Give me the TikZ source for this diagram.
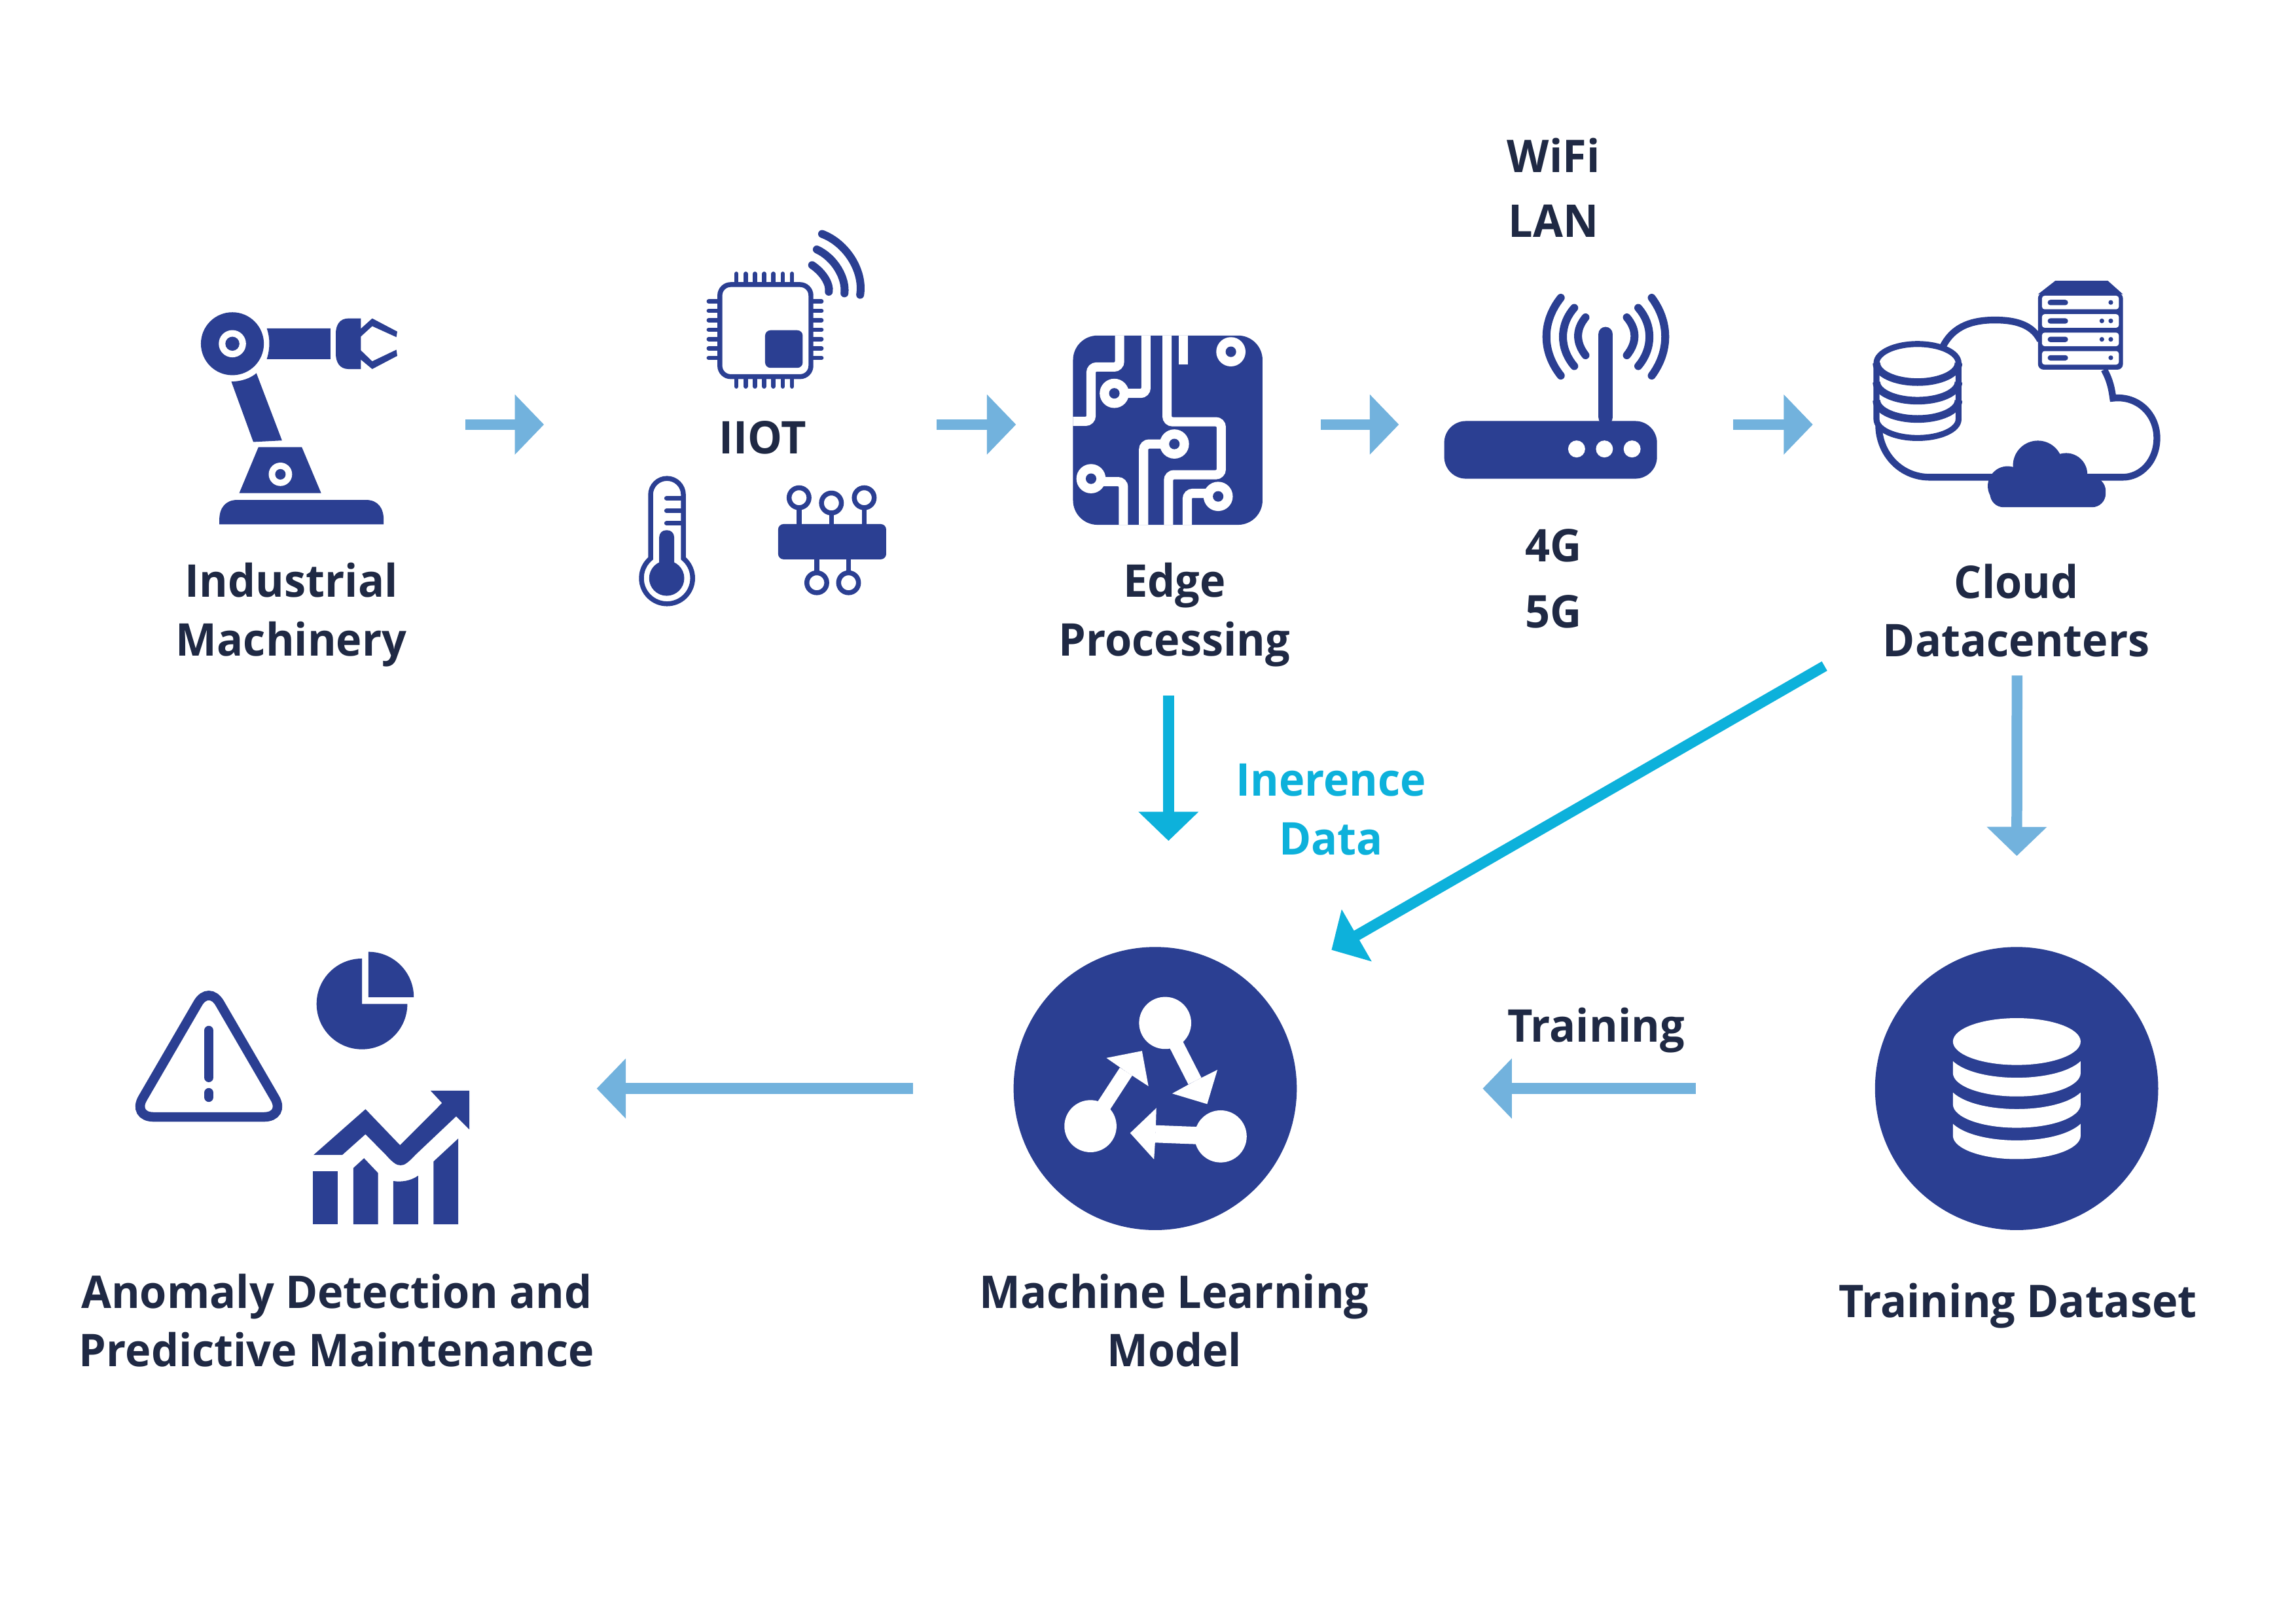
\documentclass[tikz,border=0pt]{standalone}
\usepackage{fontspec}
\usepackage{xcolor}
\usetikzlibrary{arrows.meta, positioning}
\setmainfont{Open Sans}[FakeStretch=0.966]
\definecolor{navy}{RGB}{43,63,146}
\definecolor{ink}{RGB}{31,41,68}
\definecolor{flow}{RGB}{114,178,221}
\definecolor{infer}{RGB}{13,177,219}

\begin{document}
\begin{tikzpicture}[
    x=0.018941cm, y=-0.018941cm,
    label/.style={align=center, font=\fontsize{16.6}{21.5}\selectfont\bfseries, text=ink, inner sep=0pt},
    inferlabel/.style={label, text=infer},
    frame/.style={rectangle, inner sep=0pt, outer sep=0pt, minimum height=10pt},
    disk/.style={circle, fill=navy, inner sep=0pt, outer sep=0pt, minimum size=104.2pt},
    ar/.style={-{Triangle[length=10.7pt, width=21.5pt]}, draw=flow, line width=3.97pt},
    arinfer/.style={ar, draw=infer},
    solid/.style={fill=navy, draw=none},
    line/.style={draw=navy, line width=1.8pt},
    wave/.style={draw=navy, line width=2.9pt, line cap=round},
    cut/.style={draw=white, line width=3.4pt, rounded corners=2pt}
]
\useasboundingbox (0,0) rectangle (1568,1109);

% frames of the upper row, the arrows run between their edges
\node[frame, minimum width=101pt] (robot) at (224,290) {};
\node[frame, minimum width=144.4pt] (iiot) at (505.5,290) {};
\node[frame, minimum width=112.2pt, minimum height=199.7pt] (edge) at (798,290) {};
\node[frame, minimum width=123pt] (router) at (1069.5,290) {};
\node[frame, minimum width=150.3pt, minimum height=184.7pt] (cloud) at (1377.5,290) {};

% lower row
\node[disk] (model) at (788.9,743.6) {};
\node[disk] (trainset) at (1377.2,743.6) {};
\node[frame, minimum width=169.7pt] (anomaly) at (250,743.6) {};

% robot arm
\fill[navy] (158.7,234.8) circle[radius=21.5];
\fill[white] (158.7,234.8) circle[radius=9.3];
\fill[navy] (158.7,234.8) circle[radius=4.8];
\path[solid] (182.2,224.3) -- (225.7,224.3) -- (225.7,245.3) -- (182.2,245.3)
    .. controls (184.5,238) and (184.5,231) .. cycle;
\path[solid] (246.4,217.5) -- (238,217.5) .. controls (232,217.5) and (229.3,222) .. (229.3,228)
    -- (229.3,241.5) .. controls (229.3,247.5) and (232,252.1) .. (238,252.1) -- (246.4,252.1) -- cycle;
\path[solid, line join=round] (246,224.9) -- (254.2,217.5) -- (271.3,226.5) -- (270.7,230.3)
    -- (254.2,222.8) -- (246,230.3) -- cycle;
\path[solid, line join=round] (246,238.9) -- (254.2,246.8) -- (270.7,238.9) -- (271.3,243.1)
    -- (254.2,252.1) -- (246,245.3) -- cycle;
\path[solid] (158,260.7) .. controls (165,260.5) and (171,258.5) .. (175.1,254.9)
    -- (192.6,300.9) -- (173,301.9) -- cycle;
\path[solid] (176.5,305.4) -- (206.1,305.4) -- (219.3,336.8) -- (163.4,336.8) -- cycle;
\fill[white] (191.5,324) circle[radius=8];
\fill[navy] (191.5,324) circle[radius=3.6];
\path[solid] (149.8,358.2) -- (149.8,355) .. controls (149.8,347) and (154,341.5) .. (162,341.5)
    -- (250,341.5) .. controls (258,341.5) and (262,347) .. (262,355) -- (262,358.2) -- cycle;
\node[label] (machinery) at (199,420) {Industrial\\Machinery};

% chip with pins
\foreach \i in {0,...,6} {
    \draw[navy, line width=1.6pt, line cap=round] (502.9+6.33*\i,187) -- (502.9+6.33*\i,264);
    \draw[navy, line width=1.6pt, line cap=round] (484,205.9+6.43*\i) -- (561,205.9+6.43*\i);
}
\draw[line, fill=white, rounded corners=4pt] (491.6,194.4) rectangle (553.8,257.3);
\path[solid, rounded corners=2pt] (522.5,225.6) rectangle (548.2,251.3);
\draw[wave] (561.4,159.8) .. controls (578,166) and (590,185) .. (587.4,201.4);
\draw[wave] (557.8,170.4) .. controls (570,176) and (578,190) .. (576.7,200.4);
\draw[wave] (554.6,181.1) .. controls (562,186) and (567,194) .. (566,199.3);
\node[label] (iiotlabel) at (521,299) {IIOT};

% thermometer
\draw[line] (444.3,338) arc[start angle=180, end angle=360, radius=11.2] -- (466.7,381.5)
    arc[start angle=-50.3, end angle=230.3, radius=17.5] -- cycle;
\fill[navy] (455.3,395) circle[radius=12];
\path[solid, rounded corners=2.5pt] (450.2,395) -- (450.2,362.2) -- (460.4,362.2) -- (460.4,395) -- cycle;
\draw[navy, line width=1.7pt, line cap=round] (455.2,340.4) -- (466,340.4);
\draw[navy, line width=1.7pt, line cap=round] (455.2,349) -- (466,349);
\draw[navy, line width=1.7pt, line cap=round] (455.2,357.5) -- (466,357.5);

% sensor block
\path[solid, rounded corners=2pt] (531.4,358) rectangle (605.2,382.1);
\draw[line] (545.7,347) -- (545.7,358);
\draw[line] (567.8,350.6) -- (567.8,358);
\draw[line] (590.2,347) -- (590.2,358);
\draw[line] (557.8,382) -- (557.8,391);
\draw[line] (579.5,382) -- (579.5,391);
\draw[line] (545.7,340) circle[radius=6.8];
\draw[line] (567.8,343.6) circle[radius=6.8];
\draw[line] (590.2,340) circle[radius=6.8];
\draw[line] (557.8,398.1) circle[radius=6.8];
\draw[line] (579.5,398.1) circle[radius=6.8];

% circuit board
\path[solid, rounded corners=9pt] (732.8,229.2) rectangle (862.2,358.5);
\draw[cut] (732.8,287.8) -- (745.1,287.8) -- (745.1,250.7) -- (764.6,250.7) -- (764.6,229.2);
\draw[cut] (765,268.7) -- (782.6,268.7) -- (782.6,229.2);
\draw[cut] (797,229.2) -- (797,288.1) -- (834,288.1) -- (834,324.3) -- (798,324.3) -- (798,358.5);
\draw[cut] (808.3,229.2) -- (808.3,248.8);
\draw[cut] (802,303.3) -- (781,303.3) -- (781,358.5);
\draw[cut] (745.1,329) -- (767.2,329) -- (767.2,358.5);
\draw[cut] (831.9,337) -- (810.8,337) -- (810.8,358.5);
\foreach \cx/\cy in {761/268.7, 840.6/240.3, 802/303.3, 745.1/327, 831.9/339.1} {
    \fill[white] (\cx,\cy) circle[radius=10];
    \fill[navy] (\cx,\cy) circle[radius=3.6];
}
\node[label] (edgelabel) at (802,420) {Edge\\Processing};

% router
\path[solid, rounded corners=8pt] (986.3,287.6) rectangle (1131.6,327);
\path[solid, rounded corners=2.6pt] (1091.6,290) -- (1091.6,223.3) -- (1101.3,223.3) -- (1101.3,290) -- cycle;
\fill[white] (1076.7,306.7) circle[radius=5.8];
\fill[white] (1095.7,306.7) circle[radius=5.8];
\fill[white] (1114.6,306.7) circle[radius=5.8];
\draw[wave] (1082.8,216.8) .. controls (1076,225) and (1076,234) .. (1082.8,242.7);
\draw[wave] (1075.1,210.3) .. controls (1064.8,222) and (1064.8,238) .. (1075.1,250.1);
\draw[wave] (1065.9,203.4) .. controls (1052.8,220) and (1052.8,240) .. (1065.9,256.6);
\draw[wave] (1111,216.8) .. controls (1118,225) and (1118,234) .. (1111,242.7);
\draw[wave] (1118.8,210.3) .. controls (1129,222) and (1129,238) .. (1118.8,250.1);
\draw[wave] (1128,203.4) .. controls (1140.3,220) and (1140.3,240) .. (1128,256.6);
\node[label] (wifi) at (1061,106) {WiFi};
\node[label] (lan) at (1061,151) {LAN};
\node[label] (fourg) at (1061,372.5) {4G};
\node[label] (fiveg) at (1061,418) {5G};

% cloud outline
\draw[navy, line width=2.5pt] (1326.6,237.2) .. controls (1334,222) and (1348,218.6) .. (1362.5,218.6)
    .. controls (1377,218.6) and (1388,222) .. (1393.3,232.5);
\draw[navy, line width=2.5pt] (1437,252.5) .. controls (1441,260) and (1442,265) .. (1443,272)
    .. controls (1460,270) and (1473,283) .. (1473,299.2)
    .. controls (1473,315) and (1462,326) .. (1449.7,326) -- (1317.9,326)
    .. controls (1298,326) and (1283,310) .. (1283,290);

% server rack
\path[solid] (1403.6,191.8) -- (1439.5,191.8) -- (1449.8,201) -- (1391.8,201) -- cycle;
\path[solid, rounded corners=2pt] (1391.8,200) rectangle (1449.8,252.5);
\foreach \ry/\ldot in {202/0, 214.6/1, 227.2/1, 239.8/0} {
    \fill[white, rounded corners=1pt] (1394.5,\ry) rectangle (1447,\ry+9.3);
    \path[solid, rounded corners=1pt] (1398.4,\ry+2.8) rectangle (1412.3,\ry+6.5);
    \fill[navy] (1441.5,\ry+4.6) circle[radius=1.6];
    \ifnum\ldot=1 \fill[navy] (1435.4,\ry+4.6) circle[radius=1.6]; \fi
}

% small database
\draw[navy, line width=2.2pt, fill=white] (1281.5,248) -- (1281.5,286.5)
    arc[start angle=180, end angle=0, x radius=28, y radius=12.7] -- (1337.5,248)
    arc[start angle=0, end angle=-180, x radius=28, y radius=13] -- cycle;
\draw[navy, line width=2.8pt] (1281.5,248) arc[start angle=180, end angle=0, x radius=28, y radius=13];
\draw[navy, line width=2.8pt] (1281.5,261) arc[start angle=180, end angle=0, x radius=28, y radius=12.7];
\draw[navy, line width=2.8pt] (1281.5,273.5) arc[start angle=180, end angle=0, x radius=28, y radius=12.7];

% small solid cloud
\fill[navy] (1391.7,318) circle[radius=17];
\fill[navy] (1411,324) circle[radius=14.5];
\fill[navy] (1371,332) circle[radius=13.5];
\path[solid, rounded corners=5pt] (1359,326) rectangle (1438,346.5);
\node[label] (cloudlabel) at (1377,417) {Cloud\\Datacenters};

% warning sign
\draw[navy, line width=3.5pt, rounded corners=8pt] (142.6,672.5) -- (195.2,763) -- (90,763) -- cycle;
\draw[navy, line width=3.5pt, line cap=round] (142.6,704) -- (142.6,736);
\draw[navy, line width=3.5pt, line cap=round] (142.6,746.5) -- (142.6,749.5);

% pie
\path[solid] (247.2,685.8) -- (278.2,685.8) arc[start angle=0, end angle=270, radius=31] -- cycle;
\path[solid] (251.6,681.2) -- (251.6,650.2) arc[start angle=-90, end angle=0, radius=31] -- cycle;

% growth chart
\path[solid] (213.7,800.1) rectangle (230.7,836.3);
\path[solid] (241.3,797.9) -- (248.6,791.2) -- (258.2,801.3) -- (258.2,836.3) -- (241.3,836.3) -- cycle;
\path[solid] (268.6,806.8) .. controls (274,807.5) and (280,807) .. (285.6,803.1) -- (285.6,836.3) -- (268.6,836.3) -- cycle;
\path[solid] (296.1,793.4) -- (312.9,777.8) -- (312.9,836.3) -- (296.1,836.3) -- cycle;
\path[solid] (214.1,789) -- (249.6,757.7) -- (273.2,782.3) -- (301.9,753.5) -- (294,745) -- (320.5,745)
    -- (320.5,771.5) -- (311.5,762.6) -- (283.6,789) .. controls (278,795) and (276,796) .. (273.6,796)
    .. controls (271,796) and (269,795) .. (263.6,789) -- (249.6,774.8) -- (233.7,789) -- cycle;
\node[label] (anomalylabel) at (230,902) {Anomaly Detection and\\Predictive Maintenance};

% network glyph on the model disk
\fill[white] (795.7,698.8) circle[radius=17.8];
\fill[white] (744.7,769.3) circle[radius=17.8];
\fill[white] (833.6,776.3) circle[radius=17.8];
\draw[white, line width=5.4pt] (795.7,698.8) -- (816,738.5);
\draw[white, line width=5.4pt] (744.7,769.3) -- (769,732);
\draw[white, line width=6.4pt] (833.6,776.3) -- (789,774.6);
\fill[white] (824.4,754.2) -- (831.4,730.8) -- (816,738.5) -- (800.5,747) -- cycle;
\fill[white] (779.9,717.9) -- (755.6,722.7) -- (769,732) -- (784.3,742) -- cycle;
\fill[white] (771.8,774) -- (789.7,756.9) -- (789.2,774.6) -- (788.1,792) -- cycle;
\node[label] (modellabel) at (802,902) {Machine Learning\\Model};

% cylinder on the dataset disk
\fill[white] (1377.3,711.5) ellipse[x radius=43.6, y radius=16];
\foreach \dy in {0,21.4,42.8} {
    \fill[white] (1333.7,724.9+\dy) .. controls (1350,740+\dy) and (1404.7,740+\dy) .. (1420.9,724.9+\dy)
        -- (1420.9,733+\dy) arc[start angle=0, end angle=180, x radius=43.6, y radius=16] -- cycle;
}
\node[label] (trainsetlabel) at (1378,892) {Training Dataset};

% flow arrows
\draw[ar] (robot.east) -- (iiot.west);
\draw[ar] (iiot.east) -- (edge.west);
\draw[ar] (edge.east) -- (router.west);
\draw[ar] (router.east) -- (cloud.west);
\draw[ar, shorten >=33.5pt] (cloud.south) -- (trainset.north);
\draw[ar, shorten <=65.9pt, shorten >=68.4pt] (trainset.west) -- (model.east);
\draw[ar, shorten <=37pt] (model.west) -- (anomaly.east);
\node[label] (trainlabel) at (1090,704) {Training};

% inference arrows
\coordinate (edgein) at (798,574.4);
\coordinate (cloudout) at (1246,455);
\coordinate (modelin) at (909.3,648.9);
\draw[arinfer] (edge.south) -- (edgein);
\draw[arinfer] (cloudout) -- (modelin);
\node[inferlabel] (inferdata) at (909,553) {Inerence\\Data};
\end{tikzpicture}
\end{document}
